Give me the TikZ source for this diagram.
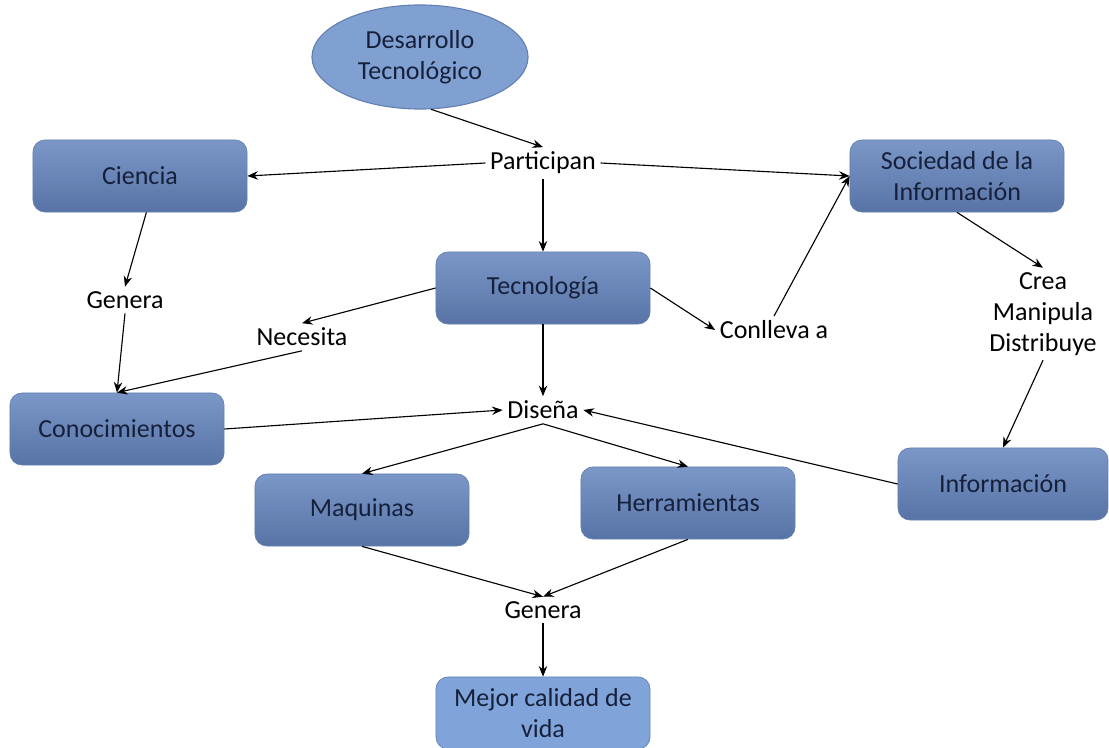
\documentclass[tikz,border=0pt]{standalone}
\usepackage{fontspec}
\setmainfont{Carlito}
\usepackage{tikz}
\usetikzlibrary{shapes.geometric, arrows.meta}

\definecolor{boxtop}{RGB}{122,151,200}
\definecolor{boxbot}{RGB}{88,116,166}
\definecolor{boxline}{RGB}{100,128,176}
\definecolor{boxtext}{RGB}{22,32,58}
\definecolor{lightbox}{RGB}{128,164,218}
\definecolor{ovalfill}{RGB}{128,160,210}

\tikzset{
  caja/.style={rectangle, rounded corners=8.5pt, top color=boxtop, bottom color=boxbot,
    draw=boxline, line width=0.5pt, minimum width=5.35cm, minimum height=1.8cm,
    align=center, text=boxtext},
  etiqueta/.style={align=center, inner sep=3pt, text=black},
}

\begin{document}
\begin{tikzpicture}[x=0.025cm, y=-0.025cm, >={Stealth[length=7.5pt,width=6pt]}, line width=0.8pt,
  font=\fontsize{18.5}{22}\selectfont]
\useasboundingbox (0,0) rectangle (1109,748);

\node[ellipse, fill=ovalfill, draw=boxline, minimum width=5.4cm, minimum height=2.6cm,
  align=center, text=boxtext] (des) at (420,57) {Desarrollo\\Tecnológico};

\node[etiqueta] (part) at (543,163) {Participan};
\node[caja] (cie) at (140,176) {Ciencia};
\node[caja] (soc) at (957,176) {Sociedad de la\\Información};

\node[etiqueta] (gen1) at (125,300) {Genera};
\node[caja] (tec) at (543,288) {Tecnología};
\node[etiqueta] (nec) at (302,337) {Necesita};
\node[etiqueta] (conl) at (774,330) {Conlleva a};
\node[etiqueta] (crea) at (1043,314) {Crea\\Manipula\\Distribuye};

\node[caja] (con) at (117,429) {Conocimientos};
\node[etiqueta] (dis) at (543,410) {Diseña};
\node[caja, minimum width=5.25cm] (inf) at (1003,484) {Información};

\node[caja] (maq) at (362,510) {Maquinas};
\node[caja] (her) at (688,503) {Herramientas};

\node[etiqueta] (gen2) at (543,610) {Genera};
\node[caja, top color=lightbox, bottom color=lightbox] (mej) at (543,713) {Mejor calidad de\\vida};

\draw[->]  (des.-78) -- (part.north);
\draw[->]  (part.west) -- (cie.east);
\draw[->]  (part.east) -- (soc.west);
\draw[->]  (part.south) -- (tec.north);

\draw[->]  (cie.-80) -- (gen1.north);
\draw[->]  (gen1.south) -- (con.north);
\draw[->]  (tec.west) -- (nec.north);
\draw[->]  (nec.south) -- (con.north);
\draw[->]  (tec.east) -- (conl.west);
\draw[->]  (conl.north) -- (soc.west);
\draw[->]  (soc.south) -- (crea.north);
\draw[->]  (crea.south) -- (inf.north);

\draw[->]  (tec.south) -- (dis.north);
\draw[->]  (con.east) -- (dis.west);
\draw[->]  (inf.west) -- (dis.east);
\draw[->]  (dis.south) -- (maq.north);
\draw[->]  (dis.south) -- (her.north);

\draw[->]  (maq.south) -- (gen2.north);
\draw[->]  (her.south) -- (gen2.north);
\draw[->]  (gen2.south) -- (mej.north);
\end{tikzpicture}
\end{document}
